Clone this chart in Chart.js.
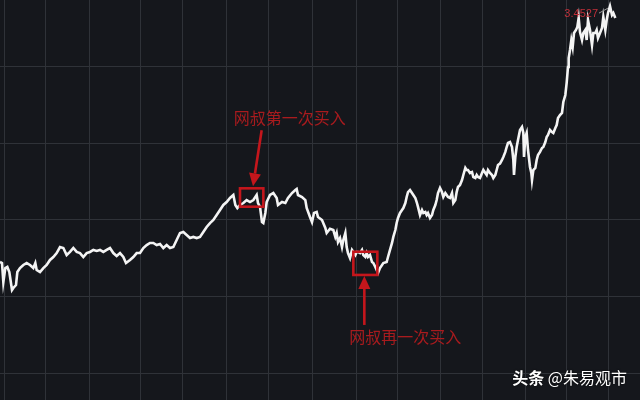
<!DOCTYPE html>
<html>
<head>
<meta charset="utf-8">
<script src="https://cdn.jsdelivr.net/npm/chart.js@4"></script>
<style>
  html, body { margin: 0; padding: 0; background: #15171c; }
  canvas { display: block; }
</style>
</head>
<body>
<canvas id="navChart" width="640" height="400"></canvas>
<script>
// trading day index and fund NAV
const dayIndex = [0,3,5,8,11,14,18,20,24,26,30,35,40,45,50,53,55,60,65,70,75,80,85,90,95,100,105,110,115,120,125,130,135,140,145,150,155,160,165,170,175,180,185,189,195,200,205,210,215,220,225,230,235,240,245,250,255,260,265,270,275,280,285,290,295,300,305,310,315,320,325,330,335,340,345,350,353,356,360,365,370,375,380,385,387,390,393,395,398,400,405,410,415,417,423,428,432,438,443,445,447,453,458,460,465,468,471,475,477,483,488,490,495,500,503,505,507,510,513,515,518,520,522,525,528,533,535,537,540,543,545,548,550,552,555,558,560,563,565,567,570,575,580,582,585,588,590,593,595,597,600,603,605,608,610,612,615,618,620,623,625,627,630,633,635,638,640,642,645,648,650,653,655,657,660,663,665,668,670,672,675,678,680,683,685,687,690,693,695,698,700,702,705,708,710,713,715,717,720,723,725,728,730,732,735,738,740,743,745,747,750,753,755,758,760,762,765,768,770,771,773,775,777,780,783,785,786,788,790,792,795,797,798,800,803,805,807,810,813,815,818,820,822,825,828,830,833,835,837,840,843,845,848,850,852,853,855,857,859,861,864,866,868,870,873,875,878,880,882,885,888,890,893,895,897,900,903,905,908,910,912,915,918,920,923];
const navValues = [1.116,1.107,0.934,1.061,1.071,1.025,0.861,0.879,0.906,1.025,1.061,1.089,1.107,1.089,1.061,1.107,1.043,1.025,1.061,1.089,1.135,1.162,1.198,1.253,1.244,1.180,1.208,1.244,1.208,1.198,1.162,1.198,1.208,1.226,1.217,1.226,1.208,1.226,1.244,1.198,1.171,1.198,1.162,1.107,1.135,1.162,1.198,1.198,1.244,1.271,1.290,1.290,1.271,1.281,1.244,1.271,1.244,1.253,1.317,1.381,1.390,1.363,1.335,1.345,1.335,1.345,1.390,1.436,1.472,1.500,1.545,1.591,1.637,1.664,1.701,1.728,1.637,1.609,1.637,1.655,1.682,1.664,1.682,1.728,1.655,1.619,1.481,1.472,1.564,1.664,1.728,1.746,1.701,1.637,1.664,1.655,1.701,1.746,1.774,1.783,1.728,1.710,1.682,1.609,1.527,1.481,1.564,1.573,1.527,1.500,1.427,1.381,1.420,1.408,1.345,1.381,1.299,1.335,1.253,1.317,1.381,1.253,1.198,1.153,1.226,1.180,1.208,1.208,1.198,1.226,1.180,1.162,1.198,1.162,1.180,1.116,1.107,1.071,1.043,1.016,1.061,1.107,1.116,1.162,1.226,1.290,1.345,1.408,1.472,1.518,1.564,1.591,1.609,1.655,1.710,1.755,1.774,1.746,1.728,1.701,1.664,1.619,1.545,1.591,1.564,1.573,1.545,1.564,1.518,1.545,1.591,1.637,1.682,1.746,1.792,1.755,1.710,1.746,1.728,1.710,1.701,1.746,1.655,1.682,1.755,1.801,1.819,1.865,1.911,1.975,1.956,1.956,1.929,1.938,1.892,1.883,1.911,1.892,1.883,1.929,1.956,1.929,1.911,1.956,1.929,1.911,1.883,1.911,1.956,2.002,2.015,2.048,2.075,2.121,2.166,2.203,2.212,2.166,2.048,1.911,2.075,2.166,2.230,2.322,2.349,2.294,2.075,2.258,2.294,2.139,1.984,1.929,1.865,1.956,1.975,2.048,2.093,2.121,2.157,2.166,2.212,2.258,2.276,2.322,2.303,2.294,2.340,2.367,2.431,2.458,2.477,2.577,2.641,2.751,2.897,2.979,3.052,3.143,3.079,3.207,3.235,3.262,3.344,3.216,3.143,3.207,3.235,3.143,3.326,3.235,3.098,3.207,3.207,3.235,3.162,3.207,3.253,3.353,3.235,3.326,3.390,3.4527,3.372,3.390,3.344];

// grid positions (no labels shown)
const gridDays = [6,68,134,210,273,340,402,468,534,596,660,724,788,850,912];
const gridNav = [0.1,0.8,1.5,2.2,2.9];

// buy markers: day range and NAV range of each box
const buyLabels = ['网叔第一次买入', '网叔再一次买入'];
const buyDays = [[360, 395], [530, 566]];
const buyNav = [[1.621, 1.789], [0.998, 1.210]];

const bgColor = '#15171c';
const gridColor = '#2f3238';
const markRed = '#c4161c';
const textRed = '#a81b1e';

const backgroundPlugin = {
    id: 'bg',
    beforeDraw(chart) {
        const ctx = chart.ctx;
        ctx.save();
        ctx.fillStyle = bgColor;
        ctx.fillRect(0, 0, chart.width, chart.height);
        ctx.restore();
    }
};

function drawArrow(ctx, x1, y1, x2, y2) {
    const ang = Math.atan2(y2 - y1, x2 - x1);
    const headLen = 13, headW = 6;
    const bx = x2 - headLen * Math.cos(ang);
    const by = y2 - headLen * Math.sin(ang);
    ctx.beginPath();
    ctx.moveTo(x1, y1);
    ctx.lineTo(bx, by);
    ctx.stroke();
    ctx.beginPath();
    ctx.moveTo(x2, y2);
    ctx.lineTo(bx + headW * Math.sin(ang), by - headW * Math.cos(ang));
    ctx.lineTo(bx - headW * Math.sin(ang), by + headW * Math.cos(ang));
    ctx.closePath();
    ctx.fill();
}

const annotationPlugin = {
    id: 'buyMarks',
    afterDatasetsDraw(chart) {
        const ctx = chart.ctx;
        const xs = chart.scales.x, ys = chart.scales.y;
        ctx.save();

        buyLabels.forEach((label, i) => {
            const left = xs.getPixelForValue(buyDays[i][0]);
            const right = xs.getPixelForValue(buyDays[i][1]);
            const top = ys.getPixelForValue(buyNav[i][1]);
            const bottom = ys.getPixelForValue(buyNav[i][0]);
            ctx.strokeStyle = markRed;
            ctx.fillStyle = markRed;
            ctx.lineWidth = 2.6;
            ctx.strokeRect(left, top, right - left, bottom - top);

            ctx.font = '16px "Noto Sans CJK SC"';
            ctx.textBaseline = 'middle';
            ctx.textAlign = 'center';
            if (i === 0) {
                // label above, arrow down into the box
                const cx = (left + right) / 2 + 38;
                const ty = top - 70;
                drawArrow(ctx, cx - 28, ty + 12, left + 13, top - 2);
                ctx.fillStyle = textRed;
                ctx.fillText(label, cx, ty);
            } else {
                // label below, arrow up to the box
                const ax = (left + right) / 2 - 1;
                drawArrow(ctx, ax, bottom + 50, ax, bottom + 1);
                ctx.fillStyle = textRed;
                ctx.fillText(label, (left + right) / 2 + 40, bottom + 62);
            }
        });

        // max value label
        let maxIdx = 0;
        navValues.forEach((v, i) => { if (v > navValues[maxIdx]) maxIdx = i; });
        const mx = xs.getPixelForValue(dayIndex[maxIdx]);
        const my = ys.getPixelForValue(navValues[maxIdx]);
        ctx.font = '11px "Liberation Sans"';
        ctx.textAlign = 'right';
        ctx.textBaseline = 'alphabetic';
        ctx.fillStyle = '#c0303a';
        ctx.fillText(navValues[maxIdx].toFixed(4), mx - 12, my + 11);
        ctx.strokeStyle = '#9a9a9a';
        ctx.lineWidth = 1;
        ctx.beginPath();
        ctx.moveTo(mx - 11, my + 7);
        ctx.lineTo(mx - 2, my + 2);
        ctx.stroke();

        // watermark
        const wx = chart.width - 13, wy = chart.height - 22;
        ctx.textBaseline = 'middle';
        ctx.textAlign = 'right';
        ctx.shadowColor = 'rgba(0,0,0,0.8)';
        ctx.shadowBlur = 2;
        ctx.fillStyle = '#ffffff';
        ctx.font = '16px "Noto Sans CJK SC"';
        const rest = ' @朱易观市';
        ctx.fillText(rest, wx, wy);
        const restW = ctx.measureText(rest).width;
        ctx.font = 'bold 16px "Noto Sans CJK SC"';
        ctx.fillText('头条', wx - restW, wy);
        ctx.restore();
    }
};

const points = dayIndex.map((d, i) => ({ x: d, y: navValues[i] }));

new Chart(document.getElementById('navChart').getContext('2d'), {
    type: 'line',
    data: {
        datasets: [{
            data: points,
            borderColor: '#f4f4f4',
            borderWidth: 2.6,
            pointRadius: 0,
            tension: 0,
            fill: false
        }]
    },
    options: {
        responsive: false,
        animation: false,
        layout: { padding: 0 },
        plugins: {
            legend: { display: false },
            tooltip: { enabled: false }
        },
        scales: {
            x: {
                type: 'linear',
                min: 0,
                max: 960,
                afterBuildTicks: (scale) => { scale.ticks = gridDays.map(v => ({ value: v })); },
                ticks: { display: false },
                grid: { color: gridColor, lineWidth: 1, drawTicks: false },
                border: { display: false }
            },
            y: {
                type: 'linear',
                min: -0.1438,
                max: 3.5085,
                afterBuildTicks: (scale) => { scale.ticks = gridNav.map(v => ({ value: v })); },
                ticks: { display: false },
                grid: { color: gridColor, lineWidth: 1, drawTicks: false },
                border: { display: false }
            }
        }
    },
    plugins: [backgroundPlugin, annotationPlugin]
});
</script>
</body>
</html>
